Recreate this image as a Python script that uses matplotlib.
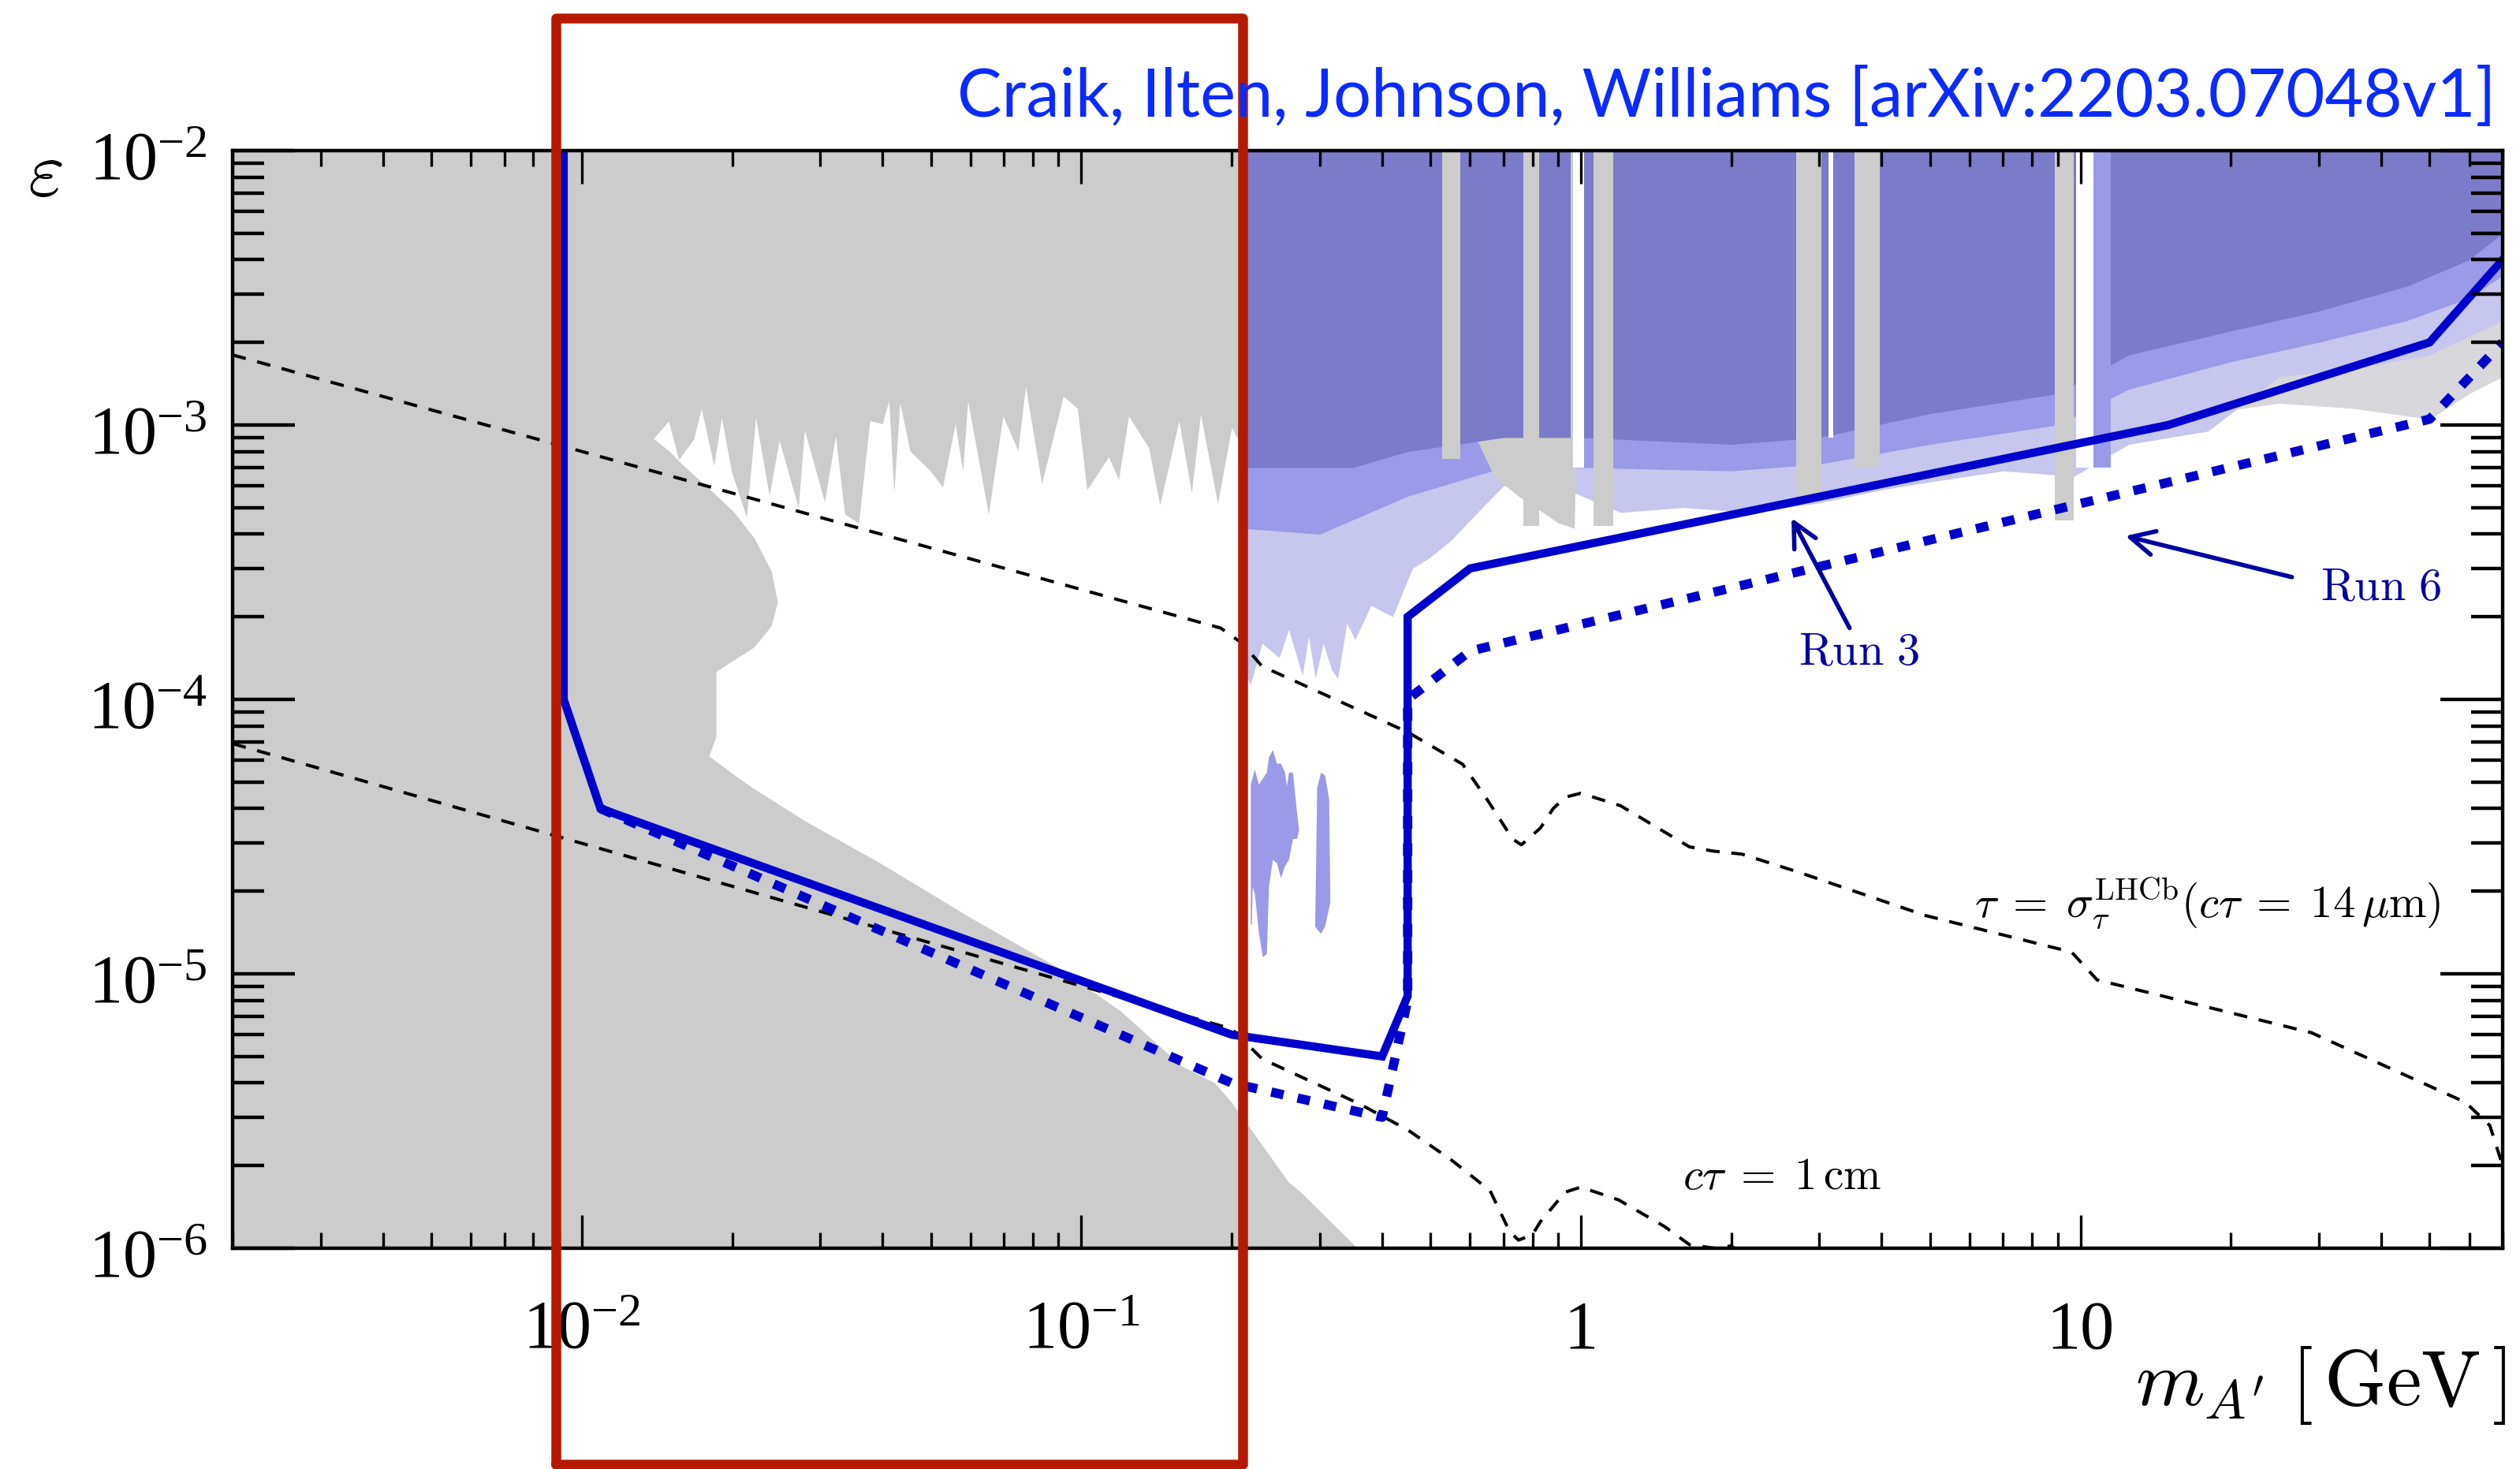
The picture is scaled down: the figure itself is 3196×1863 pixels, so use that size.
import matplotlib
matplotlib.use('Agg')
import matplotlib.pyplot as plt
from matplotlib import transforms
from matplotlib.ticker import LogLocator, NullFormatter

plt.rcParams['mathtext.fontset'] = 'custom'
plt.rcParams['mathtext.rm'] = 'Liberation Serif'
plt.rcParams['mathtext.it'] = 'Liberation Serif:italic'

GRAY = '#cccccc'
GRAY_FUZZ = '#d8d8dc'
BLUE_DARK = '#7b7bc9'
BLUE_LIGHT = '#9a9ae8'
BLUE_FUZZ = '#c6c6ee'
LINE_BLUE = '#0000cc'
NAVY = '#0000a0'
RED = '#b51a00'

M_MIN, M_MAX = 0.002, 70
EPS_MIN, EPS_MAX = 1e-6, 1e-2

# ---- projected reach (mass in GeV, epsilon) ----
run3_m = [0.0092, 0.0092, 0.0109, 0.2, 0.4, 0.45, 0.45, 0.6, 15, 50, 70]
run3_eps = [1e-2, 1e-4, 4e-5, 6e-6, 5e-6, 8.3e-6, 2e-4, 3e-4, 1e-3, 2e-3, 4e-3]
run6_m = [0.0109, 0.2, 0.4, 0.45, 0.45, 0.6, 50, 70]
run6_eps = [4e-5, 4e-6, 3e-6, 8e-6, 1e-4, 1.5e-4, 1.05e-3, 2e-3]

# ---- lifetime contours ----
tau_m = [0.002, 0.19, 0.21, 0.23, 0.45, 0.58, 0.65, 0.73, 0.76, 0.83, 0.88, 0.93, 1.0,
         1.2, 1.65, 1.84, 2.1, 2.72, 4.9, 9.6, 10.8, 29, 59, 66, 70]
tau_eps = [1.8e-3, 1.82e-4, 1.6e-4, 1.32e-4, 7.6e-5, 5.8e-5, 4.3e-5, 3.1e-5, 2.95e-5, 3.4e-5,
           4.0e-5, 4.4e-5, 4.55e-5, 4.1e-5, 2.9e-5, 2.8e-5, 2.73e-5, 2.35e-5, 1.63e-5, 1.2e-5,
           9.5e-6, 6.1e-6, 3.4e-6, 2.8e-6, 2.0e-6]
ctau_m = [0.002, 0.2, 0.23, 0.36, 0.45, 0.55, 0.658, 0.72, 0.75, 0.80, 0.83, 0.93, 1.0,
          1.19, 1.47, 1.65, 1.85, 2.0, 2.1]
ctau_eps = [6.9e-5, 6.3e-6, 4.9e-6, 3.36e-6, 2.7e-6, 2.1e-6, 1.62e-6, 1.15e-6, 1.07e-6, 1.12e-6,
            1.25e-6, 1.6e-6, 1.67e-6, 1.5e-6, 1.2e-6, 1.03e-6, 1.0e-6, 1.02e-6, 9.5e-7]

# ---- existing limits, low mass (gray) ----
jag_m = [0.01495, 0.01566, 0.01679, 0.01738, 0.01842, 0.01908, 0.01998, 0.02141, 0.02233,
         0.02377, 0.02489, 0.02719, 0.02796, 0.03067, 0.03227, 0.03365, 0.0359, 0.03779,
         0.04003, 0.04126, 0.04223, 0.04342, 0.04548, 0.04989, 0.05285, 0.05603, 0.05801,
         0.05936, 0.06529, 0.06982, 0.07482, 0.07747, 0.08346, 0.0922, 0.0984, 0.1028,
         0.1136, 0.119, 0.1246, 0.1367, 0.1439, 0.1571, 0.1665, 0.1736, 0.1878, 0.2004, 0.2099]
jag_eps = [1.03e-3, 7.44e-4, 8.87e-4, 1.145e-3, 7.08e-4, 1.06e-3, 6.73e-4, 4.6e-4, 1.06e-3,
           5.5e-4, 8.76e-4, 4.97e-4, 9.57e-4, 5.22e-4, 9.1e-4, 4.72e-4, 4.37e-4, 1.033e-3,
           1.007e-3, 1.22e-3, 5.64e-4, 1.2e-3, 8.01e-4, 6.8e-4, 5.92e-4, 1.007e-3, 6.73e-4,
           1.22e-3, 4.72e-4, 1.075e-3, 8.01e-4, 1.38e-3, 6.08e-4, 1.27e-3, 1.145e-3, 5.78e-4,
           7.63e-4, 6.31e-4, 1.075e-3, 8.22e-4, 5.09e-4, 1.033e-3, 5.64e-4, 1.09e-3, 5.15e-4,
           9.8e-4, 8.22e-4]
bulge_m = [0.01394, 0.0150, 0.0160, 0.0180, 0.0202, 0.0222, 0.0240, 0.0247, 0.0240, 0.0222,
           0.0186, 0.0186, 0.0180, 0.0202, 0.0222]
bulge_eps = [8.9e-4, 8.0e-4, 7.1e-4, 5.85e-4, 4.8e-4, 3.85e-4, 2.92e-4, 2.26e-4, 1.85e-4,
             1.55e-4, 1.26e-4, 7.3e-5, 6.2e-5, 5.3e-5, 4.7e-5]
diag_m = [0.028, 0.04, 0.06, 0.09, 0.12, 0.159, 0.185, 0.2, 0.26, 0.275, 0.357]
diag_eps = [3.6e-5, 2.5e-5, 1.6e-5, 1.05e-5, 7.3e-6, 4.6e-6, 4.0e-6, 3.4e-6, 1.74e-6, 1.6e-6, 1e-6]

# ---- existing limits, high mass ----
grayr_m = [18, 25, 35, 50, 60, 70]
grayr_eps = [1.1e-3, 1.2e-3, 1.15e-3, 1.05e-3, 1.3e-3, 1.5e-3]
blob_m = [0.6, 0.67, 0.75, 0.84, 0.9, 0.97, 0.98]
blob_eps = [1e-3, 6.5e-4, 5.5e-4, 4.8e-4, 4.4e-4, 4.2e-4, 1e-3]

# ---- LHCb limits (blue) ----
dblue_m = [0.21, 0.35, 0.45, 0.7, 1.0, 2.0, 3.0, 5.0, 9.0, 12.5, 20, 30, 45, 60, 70]
dblue_eps = [7e-4, 7e-4, 8e-4, 9e-4, 9e-4, 8.5e-4, 9e-4, 1.1e-3, 1.3e-3, 1.8e-3, 2.2e-3,
             2.6e-3, 3.2e-3, 4.0e-3, 5.0e-3]
# dense fringe just under the solid blue
dense_m = [0.21, 0.3, 0.45, 0.7, 1.0, 2.0, 3.0, 5.0, 9.0, 12.5, 20, 30, 45, 60, 70]
dense_eps = [4.2e-4, 4.0e-4, 5.5e-4, 7.0e-4, 7.0e-4, 6.8e-4, 7.2e-4, 8.5e-4, 1.0e-3, 1.35e-3,
             1.7e-3, 2.0e-3, 2.4e-3, 2.9e-3, 3.5e-3]
# sparse spikes reaching furthest down
lblue_m = [0.21, 0.218, 0.23, 0.249, 0.26, 0.277, 0.285, 0.294, 0.305, 0.317, 0.326, 0.34,
           0.353, 0.38, 0.42, 0.46, 0.5, 0.55, 0.6, 0.7, 0.9, 1.2, 1.6, 2.2, 3.0, 4.0, 5.0,
           7.0, 9.7, 12.5, 18, 25, 35, 50, 70]
lblue_eps = [1.3e-4, 1.13e-4, 1.6e-4, 1.42e-4, 1.8e-4, 1.22e-4, 1.7e-4, 1.19e-4, 1.6e-4,
             1.28e-4, 1.19e-4, 1.9e-4, 1.65e-4, 2.2e-4, 2.0e-4, 3.0e-4, 3.3e-4, 3.8e-4, 4.5e-4,
             6.0e-4, 6.0e-4, 4.8e-4, 5.0e-4, 4.8e-4, 5.2e-4, 5.8e-4, 6.2e-4, 6.8e-4, 6.5e-4,
             8.5e-4, 9.5e-4, 1.5e-3, 1.6e-3, 1.8e-3, 2.4e-3]
spot1_m = [0.2184, 0.2184, 0.2225, 0.2267, 0.2309, 0.2352, 0.2374, 0.2418, 0.2464, 0.2510,
           0.2557, 0.2580, 0.2604, 0.2653, 0.2702, 0.2728, 0.2702, 0.2653, 0.2604, 0.2557,
           0.2510, 0.2464, 0.2418, 0.2374, 0.2352, 0.2309, 0.2267, 0.2225, 0.2203, 0.2195]
spot1_eps = [1.51e-5, 4.89e-5, 5.54e-5, 4.89e-5, 5.14e-5, 5.41e-5, 6.14e-5, 6.54e-5, 5.83e-5,
             5.83e-5, 5.41e-5, 4.83e-5, 5.41e-5, 5.41e-5, 3.89e-5, 3.34e-5, 3.10e-5, 3.10e-5,
             2.6e-5, 2.47e-5, 2.23e-5, 2.53e-5, 2.6e-5, 2.07e-5, 1.18e-5, 1.15e-5, 1.41e-5,
             1.96e-5, 2.07e-5, 1.51e-5]
spot2_m = [0.2938, 0.2966, 0.3020, 0.3077, 0.3134, 0.3152, 0.3077, 0.3020, 0.2966]
spot2_eps = [1.49e-5, 4.77e-5, 5.41e-5, 5.27e-5, 4.31e-5, 1.82e-5, 1.49e-5, 1.40e-5, 1.45e-5]

# resonance windows where the LHCb limit is absent
band_lo = [0.527, 0.766, 0.955, 1.06, 2.70, 3.53, 8.9, 0.966, 3.13, 9.8, 10.6]
band_hi = [0.573, 0.826, 0.966, 1.16, 3.03, 3.96, 9.7, 1.013, 3.20, 10.6, 11.5]
band_bottom = [7.5e-4, 4.3e-4, 4.3e-4, 4.3e-4, 5.5e-4, 7e-4, 4.5e-4, 7e-4, 9e-4, 7e-4, 7e-4]
band_color = [GRAY, GRAY, GRAY, GRAY, GRAY, GRAY, GRAY, 'white', 'white', 'white', BLUE_LIGHT]

# ---- ticks ----
xtick_vals = [0.01, 0.1, 1, 10]
xtick_labels = ['10$^{-2}$', '10$^{-1}$', '1', '10']
ytick_vals = [1e-6, 1e-5, 1e-4, 1e-3, 1e-2]
ytick_labels = ['10$^{-6}$', '10$^{-5}$', '10$^{-4}$', '10$^{-3}$', '10$^{-2}$']

# hand-drawn highlight box
redbox_m = [0.00887, 0.21]
redbox_eps = [1.63e-7, 3.04e-2]

fig = plt.figure(figsize=(31.96, 18.63), dpi=100)
ax = fig.add_axes([0.0923, 0.1503, 0.9008, 0.7472])
ax.set_xscale('log')
ax.set_yscale('log')
ax.set_xlim(M_MIN, M_MAX)
ax.set_ylim(EPS_MIN, EPS_MAX)

# gray low-mass exclusion
poly_m = [M_MIN, M_MIN, 0.21] + jag_m[::-1] + bulge_m + diag_m
poly_eps = [EPS_MIN, EPS_MAX, EPS_MAX] + jag_eps[::-1] + bulge_eps + diag_eps
ax.fill(poly_m, poly_eps, color=GRAY, lw=0, zorder=1)

ax.fill_between(grayr_m, grayr_eps, EPS_MAX, color=GRAY_FUZZ, lw=0, zorder=1)
ax.fill_between(lblue_m, lblue_eps, EPS_MAX, color=BLUE_FUZZ, lw=0, zorder=2)
ax.fill_between(dense_m, dense_eps, EPS_MAX, color=BLUE_LIGHT, lw=0, zorder=2.2)
ax.fill_between(blob_m, blob_eps, EPS_MAX, color=GRAY, lw=0, zorder=2.5)
ax.fill_between(dblue_m, dblue_eps, EPS_MAX, color=BLUE_DARK, lw=0, zorder=3)
for lo, hi, bot, col in zip(band_lo, band_hi, band_bottom, band_color):
    ax.fill_between([lo, hi], [bot, bot], EPS_MAX, color=col, lw=0, zorder=3.5)
ax.fill(spot1_m, spot1_eps, color=BLUE_LIGHT, lw=0, zorder=2)
ax.fill(spot2_m, spot2_eps, color=BLUE_LIGHT, lw=0, zorder=2)

# lifetime contours
ax.plot(tau_m, tau_eps, color='black', lw=2.9, dashes=(4.3, 3.7), zorder=4)
ax.plot(ctau_m, ctau_eps, color='black', lw=2.9, dashes=(4.3, 3.7), zorder=4)

# projections
ax.plot(run3_m, run3_eps, color=LINE_BLUE, lw=7.5, solid_joinstyle='miter', zorder=5)
ax.plot(run6_m, run6_eps, color=LINE_BLUE, lw=8.5, dashes=(1.35, 1.55), zorder=5)

arrow = dict(arrowstyle='->', color=NAVY, lw=4, mutation_scale=55, shrinkA=0, shrinkB=0)
ax.annotate('', xy=(2.64, 4.58e-4), xytext=(3.45, 1.82e-4), arrowprops=arrow, zorder=6)
ax.annotate('', xy=(12.3, 3.94e-4), xytext=(26.5, 2.79e-4), arrowprops=arrow, zorder=6)
ax.text(3.61, 1.49e-4, r'$\mathrm{Run\ 3}$', ha='center', va='center', fontsize=42,
        color=NAVY, math_fontfamily='cm', zorder=6)
ax.text(39.9, 2.56e-4, r'$\mathrm{Run\ 6}$', ha='center', va='center', fontsize=42,
        color=NAVY, math_fontfamily='cm', zorder=6)
ax.text(52.6, 1.61e-5,
        r'$\tau\;=\;\sigma_\tau^{\mathrm{LHCb}}(c\tau\;=\;14\,\mu\mathrm{m})$',
        ha='right', va='baseline', fontsize=41, math_fontfamily='cm', zorder=6)
ax.text(1.6, 1.64e-6, r'$c\tau\;=\;1\,\mathrm{cm}$', ha='left', va='baseline', fontsize=41,
        math_fontfamily='cm', zorder=6)

# axes styling
for s in ax.spines.values():
    s.set_linewidth(3.2)
    s.set_zorder(8)
ax.xaxis.set_zorder(8)
ax.yaxis.set_zorder(8)
ax.set_xticks(xtick_vals)
ax.set_yticks(ytick_vals)
ax.xaxis.set_minor_locator(LogLocator(base=10, subs=range(2, 10), numticks=20))
ax.yaxis.set_minor_locator(LogLocator(base=10, subs=range(2, 10), numticks=20))
ax.xaxis.set_major_formatter(NullFormatter())
ax.xaxis.set_minor_formatter(NullFormatter())
ax.yaxis.set_major_formatter(NullFormatter())
ax.yaxis.set_minor_formatter(NullFormatter())
ax.tick_params(axis='x', which='major', direction='in', length=30, width=2.4, top=True)
ax.tick_params(axis='x', which='minor', direction='in', length=14.5, width=2.4, top=True)
ax.tick_params(axis='y', which='major', direction='in', length=57, width=3.2, right=True)
ax.tick_params(axis='y', which='minor', direction='in', length=29, width=3.2, right=True)

xoff = transforms.ScaledTranslation(0, -1.27, fig.dpi_scale_trans)
for v, s in zip(xtick_vals, xtick_labels):
    ax.text(v, 0, s, transform=ax.get_xaxis_transform() + xoff, ha='center', va='baseline',
            fontsize=62, family='Liberation Serif')
yoff = transforms.ScaledTranslation(-0.32, -0.37, fig.dpi_scale_trans)
for v, s in zip(ytick_vals, ytick_labels):
    ax.text(0, v, s, transform=ax.get_yaxis_transform() + yoff, ha='right', va='baseline',
            fontsize=62, family='Liberation Serif')

fig.text(3178 / 3196, 1 - 1782 / 1863, r'$m_{A^\prime}\;[\,\mathrm{GeV}\,]$', ha='right',
         va='baseline', fontsize=72, math_fontfamily='cm')
fig.text(57 / 3196, 1 - 248 / 1863, r'$\varepsilon$', ha='center', va='baseline', fontsize=72,
         math_fontfamily='cm')
fig.text(3165 / 3196, 1 - 148 / 1863, 'Craik, Ilten, Johnson, Williams [arXiv:2203.07048v1]',
         ha='right', va='baseline', color='#0a2bff', fontsize=61, family='Lato')

# highlight box
ax.plot([redbox_m[0], redbox_m[1], redbox_m[1], redbox_m[0], redbox_m[0]],
        [redbox_eps[0], redbox_eps[0], redbox_eps[1], redbox_eps[1], redbox_eps[0]],
        color=RED, lw=9, solid_joinstyle='round', solid_capstyle='round', clip_on=False,
        zorder=20)

fig.savefig('out.png', dpi=100)
